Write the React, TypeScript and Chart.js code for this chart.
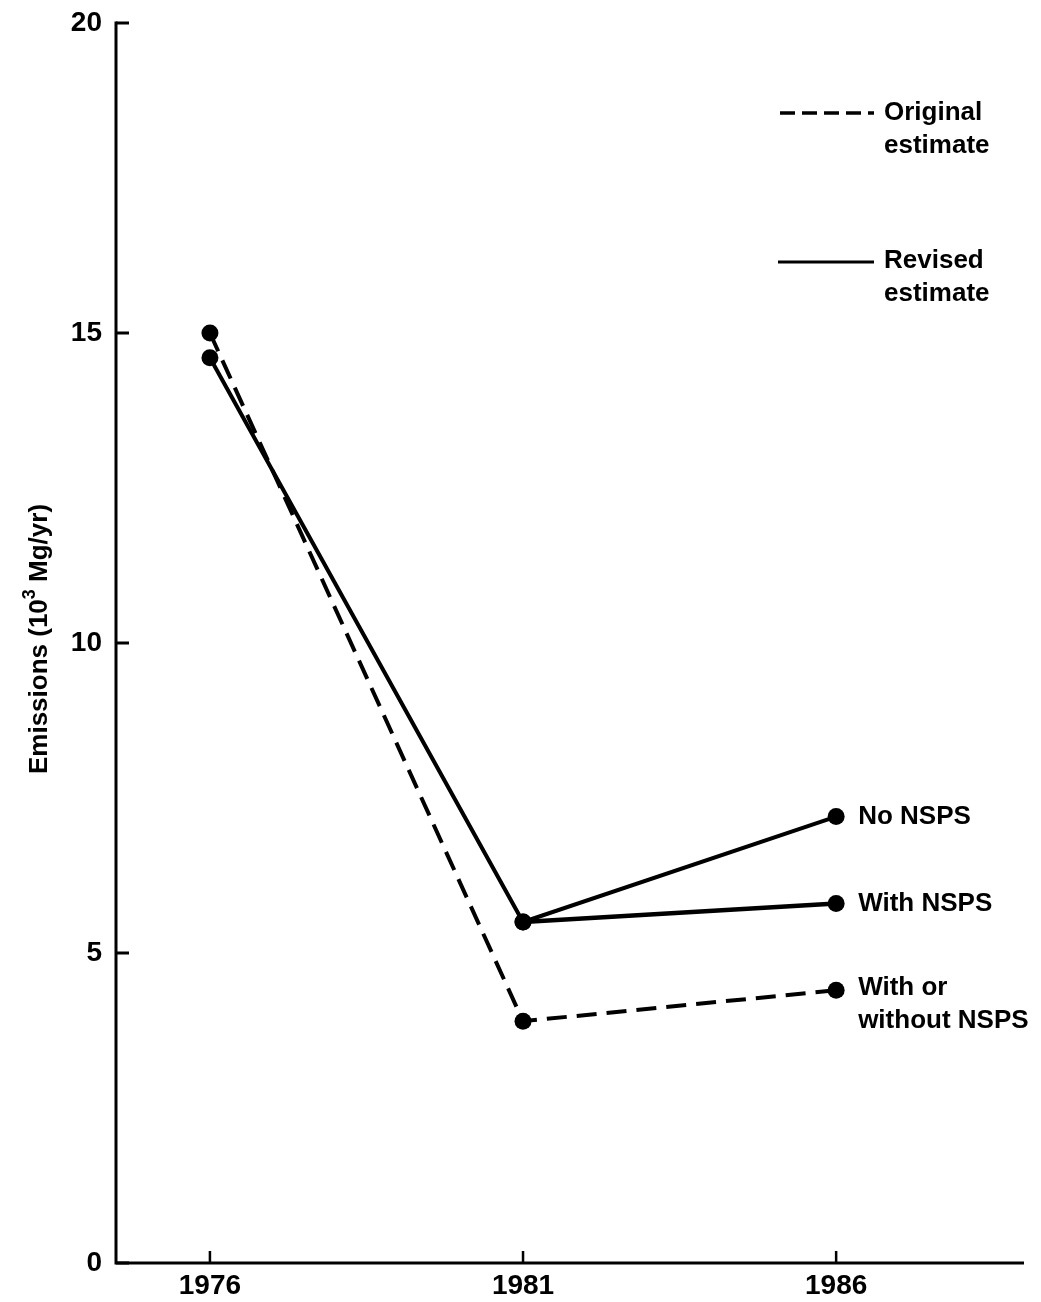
import React, { useEffect, useRef } from "react";
import { Chart, registerables } from "chart.js";

Chart.register(...registerables);

// ---- data ----
const years = [1976, 1981, 1986];
const originalEstimate = [15.0, 3.9, 4.4];
const revisedNoNSPS = [14.6, 5.5, 7.2];
const revisedWithNSPS: (number | null)[] = [null, 5.5, 5.8];
const yTicks = [0, 5, 10, 15, 20];
const xTickLabels = ["1976", "1981", "1986"];
const labelNoNSPS = ["No NSPS"];
const labelWithNSPS = ["With NSPS"];
const labelWithOrWithout = ["With or", "without NSPS"];
const legendOriginal = ["Original", "estimate"];
const legendRevised = ["Revised", "estimate"];
const yTitleParts = ["Emissions (10", "3", " Mg/yr)"];

const FONT = '"Liberation Sans", Arial, Helvetica, sans-serif';

const toPoints = (vals: (number | null)[]) =>
  years.map((x, i) => ({ x, y: vals[i] }));

const overlayPlugin = {
  id: "overlay",
  afterDraw(chart: any) {
    const ctx: CanvasRenderingContext2D = chart.ctx;
    const xs = chart.scales.x;
    const ys = chart.scales.y;
    const ca = chart.chartArea;
    ctx.save();
    ctx.strokeStyle = "#000";
    ctx.fillStyle = "#000";
    ctx.lineCap = "butt";

    // axis lines
    ctx.lineWidth = 3;
    ctx.beginPath();
    ctx.moveTo(ca.left, ys.getPixelForValue(yTicks[yTicks.length - 1]) - 1.5);
    ctx.lineTo(ca.left, ca.bottom + 1.5);
    ctx.moveTo(ca.left - 1.5, ca.bottom);
    ctx.lineTo(ca.right, ca.bottom);
    ctx.stroke();

    // y ticks (inside)
    ctx.beginPath();
    yTicks.forEach((v) => {
      const y = ys.getPixelForValue(v);
      ctx.moveTo(ca.left, y);
      ctx.lineTo(ca.left + 13, y);
    });
    ctx.stroke();

    // x ticks (inside)
    ctx.lineWidth = 2.5;
    ctx.beginPath();
    years.forEach((yr) => {
      const x = xs.getPixelForValue(yr);
      ctx.moveTo(x, ca.bottom);
      ctx.lineTo(x, ca.bottom - 12);
    });
    ctx.stroke();

    // y title with superscript
    ctx.save();
    ctx.translate(38, (ys.getPixelForValue(20) + ys.getPixelForValue(0)) / 2 - 4);
    ctx.rotate(-Math.PI / 2);
    const big = `bold 26px ${FONT}`;
    const small = `bold 18px ${FONT}`;
    ctx.font = big;
    const w0 = ctx.measureText(yTitleParts[0]).width;
    const w2 = ctx.measureText(yTitleParts[2]).width;
    ctx.font = small;
    const w1 = ctx.measureText(yTitleParts[1]).width;
    let cx = -(w0 + w1 + w2) / 2;
    ctx.textBaseline = "alphabetic";
    ctx.textAlign = "left";
    ctx.font = big;
    ctx.fillText(yTitleParts[0], cx, 9);
    cx += w0;
    ctx.font = small;
    ctx.fillText(yTitleParts[1], cx, -3);
    cx += w1;
    ctx.font = big;
    ctx.fillText(yTitleParts[2], cx, 9);
    ctx.restore();

    // legend
    ctx.font = `bold 26px ${FONT}`;
    ctx.textAlign = "left";
    ctx.textBaseline = "middle";
    ctx.lineWidth = 3.5;
    ctx.setLineDash([15, 7]);
    ctx.beginPath();
    ctx.moveTo(780, 113);
    ctx.lineTo(874, 113);
    ctx.stroke();
    ctx.setLineDash([]);
    ctx.lineWidth = 3;
    ctx.beginPath();
    ctx.moveTo(778, 262);
    ctx.lineTo(874, 262);
    ctx.stroke();
    ctx.fillText(legendOriginal[0], 884, 113);
    ctx.fillText(legendOriginal[1], 884, 146);
    ctx.fillText(legendRevised[0], 884, 261);
    ctx.fillText(legendRevised[1], 884, 294);

    // end labels
    const endPt = (ds: number) => {
      const d = chart.getDatasetMeta(ds).data;
      return d[d.length - 1];
    };
    const drawLabel = (ds: number, lines: string[], dy: number) => {
      const p = endPt(ds);
      lines.forEach((t, i) => ctx.fillText(t, p.x + 22, p.y + dy + i * 33));
    };
    drawLabel(1, labelNoNSPS, 0);
    drawLabel(2, labelWithNSPS, 0);
    drawLabel(0, labelWithOrWithout, -2);

    ctx.restore();
  },
};

export default function App() {
  const ref = useRef<HTMLCanvasElement | null>(null);

  useEffect(() => {
    if (!ref.current) return;
    const common = {
      borderColor: "#000",
      backgroundColor: "#000",
      pointBackgroundColor: "#000",
      pointBorderColor: "#000",
      pointBorderWidth: 0,
      pointRadius: 8.5,
      fill: false,
      tension: 0,
    };
    const chart = new Chart(ref.current, {
      type: "line",
      data: {
        datasets: [
          {
            ...common,
            label: "Original estimate",
            data: toPoints(originalEstimate),
            borderWidth: 4,
            borderDash: [20, 10],
          },
          {
            ...common,
            label: "Revised estimate (No NSPS)",
            data: toPoints(revisedNoNSPS),
            borderWidth: 4,
          },
          {
            ...common,
            label: "Revised estimate (With NSPS)",
            data: toPoints(revisedWithNSPS),
            borderWidth: 4.5,
          },
        ],
      },
      options: {
        animation: false,
        responsive: true,
        maintainAspectRatio: false,
        devicePixelRatio: 1,
        layout: { padding: { left: 0, right: 17, top: 23, bottom: 0 } },
        plugins: {
          legend: { display: false },
          tooltip: { enabled: false },
        },
        scales: {
          x: {
            type: "linear",
            min: 1974.5,
            max: 1989,
            afterBuildTicks: (s: any) => {
              s.ticks = years.map((v) => ({ value: v }));
            },
            afterFit: (s: any) => {
              s.height = 39;
              s.paddingLeft = 0;
              s.paddingRight = 0;
            },
            grid: { display: false, drawTicks: false },
            border: { display: false },
            ticks: {
              autoSkip: false,
              maxRotation: 0,
              padding: 6,
              color: "#000",
              font: { family: FONT, size: 28, weight: "bold" },
              callback: (v: any) => xTickLabels[years.indexOf(Number(v))] ?? "",
            },
          },
          y: {
            type: "linear",
            min: 0,
            max: 20,
            afterBuildTicks: (s: any) => {
              s.ticks = yTicks.map((v) => ({ value: v }));
            },
            afterFit: (s: any) => {
              s.width = 116;
              s.paddingTop = 0;
              s.paddingBottom = 0;
            },
            grid: { display: false, drawTicks: false },
            border: { display: false },
            ticks: {
              padding: 14,
              color: "#000",
              font: { family: FONT, size: 28, weight: "bold" },
              callback: (v: any) => String(v),
            },
          },
        },
      },
      plugins: [overlayPlugin],
    } as any);
    return () => chart.destroy();
  }, []);

  return (
    <div
      style={{
        position: "absolute",
        left: 0,
        top: 0,
        width: 1041,
        height: 1302,
        background: "#fff",
      }}
    >
      <canvas ref={ref} />
    </div>
  );
}
